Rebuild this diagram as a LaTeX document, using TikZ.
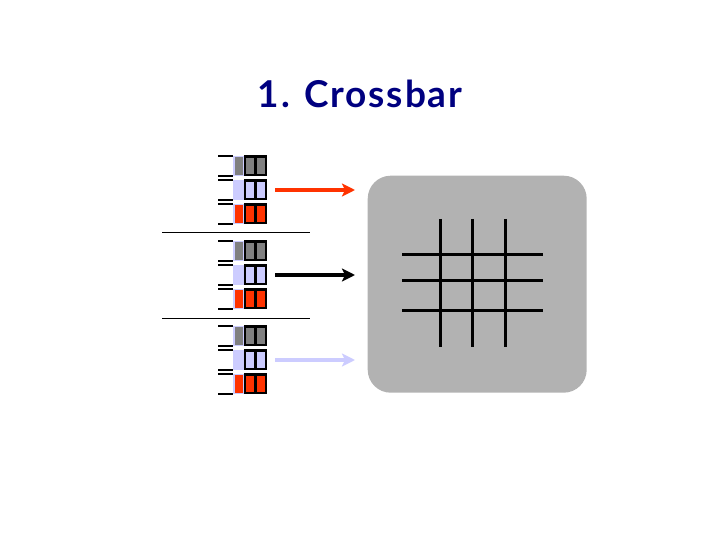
\documentclass[tikz,border=0pt]{standalone}
\usepackage{fontspec}
\setmainfont{Lato}
\newfontfamily\titlefont[LetterSpace=5]{Lato}
\usetikzlibrary{arrows.meta,positioning}
\definecolor{titleblue}{HTML}{000080}
\definecolor{lightblue}{HTML}{CCCCFF}
\definecolor{cellred}{HTML}{FF3300}
\definecolor{cellgray}{HTML}{808080}
\definecolor{fabricgray}{HTML}{B2B2B2}
\begin{document}
\begin{tikzpicture}[
  x=1pt, y=-1pt,
  slot/.style={draw=none, inner sep=0pt, minimum width=11pt, minimum height=20pt, fill=lightblue},
  inslot/.style={draw=none, inner sep=0pt, minimum width=8pt, minimum height=18pt, fill=#1},
  cell/.style={draw=black, line width=2.4pt, inner sep=0pt, outer sep=0pt, minimum width=10.3pt, minimum height=18.4pt, fill=#1},
  lip/.style={line width=1.6pt},
  sep/.style={line width=0.9pt},
  arr/.style={-{Stealth[length=13pt,width=13pt,inset=3pt]}, line width=4.2pt, color=#1},
  wire/.style={line width=3pt},
]
  \useasboundingbox (0,0) rectangle (720,540);
  \node[font=\fontsize{37}{44}\titlefont\bfseries, text=titleblue] (title) at (360,94) {1. Crossbar};

  % input queues
  \foreach \g/\gy in {1/0,2/85,3/170} {
    \foreach \r/\ry/\col in {1/0/cellgray,2/24/lightblue,3/48/cellred} {
      \node[slot] (s\g\r) at (238.5,166+\gy+\ry) {};
      \node[inslot=\col, xshift=0.7pt] (i\g\r) at (s\g\r) {};
      \node[cell=\col, anchor=west] (a\g\r) at (245.2,165.7+\gy+\ry) {};
      \node[cell=\col, right=0pt of a\g\r] (b\g\r) {};
      \coordinate (t\g\r) at (218,156+\gy+\ry);
      \coordinate (u\g\r) at (218,176+\gy+\ry);
      \draw[lip] (t\g\r) -- (t\g\r -| s\g\r.west);
      \draw[lip] (u\g\r) -- (u\g\r -| s\g\r.west);
    }
  }
  \coordinate (l1) at (162,232);
  \coordinate (r1) at (310,232);
  \coordinate (l2) at (162,318);
  \coordinate (r2) at (310,318);
  \draw[sep] (l1) -- (r1);
  \draw[sep] (l2) -- (r2);

  % crossbar
  \node[fill=fabricgray, rounded corners=23pt, inner sep=0pt, minimum width=219pt, minimum height=217pt] (fabric) at (477.2,284.2) {};
  \foreach \n/\xx in {1/440.3,2/472.3,3/505.5} {
    \coordinate (vt\n) at (\xx,219);
    \coordinate (vb\n) at (\xx,346.7);
    \draw[wire] (vt\n) -- (vb\n);
  }
  \foreach \n/\yy in {1/254.3,2/280.3,3/310.3} {
    \coordinate (hl\n) at (402,\yy);
    \coordinate (hr\n) at (543,\yy);
    \draw[wire] (hl\n) -- (hr\n);
  }

  \foreach \n/\yy/\col in {1/190/cellred,2/275/black,3/360/lightblue} {
    \coordinate (from\n) at (275,\yy);
    \coordinate (to\n) at (355,\yy);
    \draw[arr=\col] (from\n) -- (to\n);
  }
\end{tikzpicture}
\end{document}
